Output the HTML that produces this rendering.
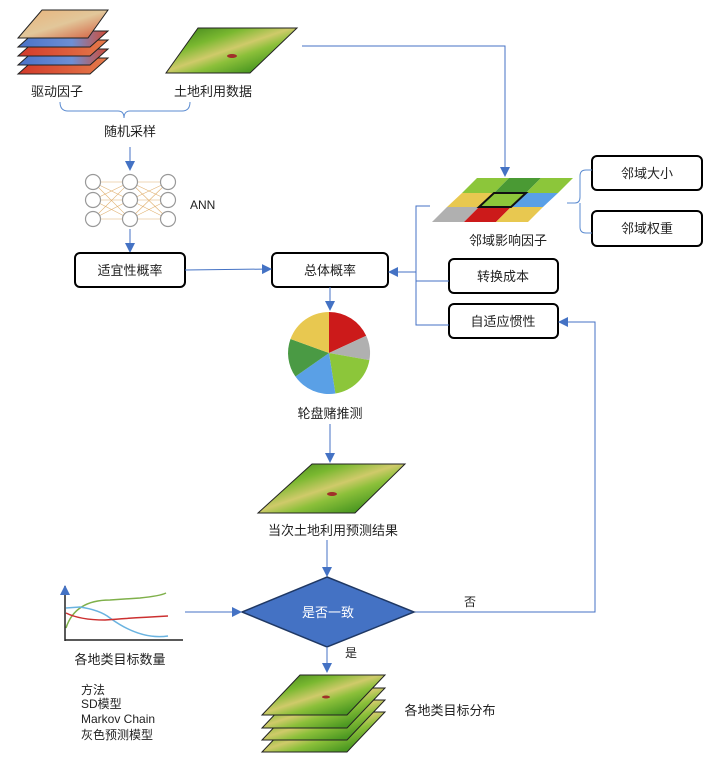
<!DOCTYPE html>
<html><head><meta charset="utf-8"><style>
html,body{margin:0;padding:0;background:#fff;}
svg{display:block;font-family:"Liberation Sans","Noto Sans CJK SC",sans-serif;}
</style></head><body>
<svg width="716" height="776" viewBox="0 0 716 776" xmlns="http://www.w3.org/2000/svg">
<defs>
<marker id="ar" markerWidth="10" markerHeight="10" refX="9" refY="5" orient="auto" markerUnits="userSpaceOnUse"><path d="M0,0 L10,5 L0,10 z" fill="#4472C4"/></marker>
<linearGradient id="lg" x1="0" y1="0" x2="1" y2="1">
<stop offset="0" stop-color="#357a18"/><stop offset="0.3" stop-color="#7ab830"/><stop offset="0.48" stop-color="#cfca6a"/><stop offset="0.6" stop-color="#8cc03a"/><stop offset="0.8" stop-color="#4e9a22"/><stop offset="1" stop-color="#357a18"/></linearGradient>
<linearGradient id="dr" x1="0" y1="0" x2="1" y2="1">
<stop offset="0" stop-color="#e9b27a"/><stop offset="0.5" stop-color="#e2c79a"/><stop offset="1" stop-color="#d2573a"/></linearGradient>
<linearGradient id="db" x1="0" y1="0" x2="1" y2="0">
<stop offset="0" stop-color="#4a72c8"/><stop offset="0.6" stop-color="#6d8fd4"/><stop offset="1" stop-color="#d44a32"/></linearGradient>
<linearGradient id="dre" x1="0" y1="0" x2="1" y2="0">
<stop offset="0" stop-color="#d23a2a"/><stop offset="1" stop-color="#e57a4a"/></linearGradient>
</defs>

<!-- driver stack -->
<g stroke="#222" stroke-width="1">
<polygon points="36,58 108,58 90,74 18,74" fill="url(#dre)"/>
<polygon points="36,49 108,49 90,65 18,65" fill="url(#db)"/>
<polygon points="36,40 108,40 90,56 18,56" fill="url(#dre)"/>
<polygon points="36,31 108,31 90,47 18,47" fill="url(#db)"/>
<polygon points="42,10 108,10 88,38 18,38" fill="url(#dr)"/>
</g>
<!-- land use -->
<polygon points="198,28 297,28 250,73 166,73" fill="url(#lg)" stroke="#222"/>
<ellipse cx="232" cy="56" rx="5" ry="2" fill="#a0302a"/>

<g font-size="13" fill="#222" text-anchor="middle">
<text x="57" y="96">驱动因子</text>
<text x="213" y="96">土地利用数据</text>
<text x="130" y="136">随机采样</text>
<text x="508" y="245">邻域影响因子</text>
<text x="330" y="418">轮盘赌推测</text>
<text x="333" y="535">当次土地利用预测结果</text>
<text x="120" y="664">各地类目标数量</text>
<text x="450" y="715">各地类目标分布</text>
</g>
<text x="190" y="209" font-size="12" fill="#222">ANN</text>

<!-- brace -->
<path d="M60,102 Q60,111 68,111 L118,111 Q124,111 124,118 Q124,111 130,111 L182,111 Q190,111 190,102" fill="none" stroke="#5b8bd0" stroke-width="1"/>
<line x1="130" y1="147" x2="130" y2="170" stroke="#4472C4" marker-end="url(#ar)"/>

<!-- ANN -->
<g stroke="#e0b070" stroke-width="0.6">
<line x1="93" y1="182" x2="130" y2="200"/><line x1="93" y1="182" x2="130" y2="219"/><line x1="93" y1="200" x2="130" y2="182"/><line x1="93" y1="200" x2="130" y2="219"/><line x1="93" y1="219" x2="130" y2="182"/><line x1="93" y1="219" x2="130" y2="200"/>
<line x1="130" y1="182" x2="168" y2="200"/><line x1="130" y1="182" x2="168" y2="219"/><line x1="130" y1="200" x2="168" y2="182"/><line x1="130" y1="200" x2="168" y2="219"/><line x1="130" y1="219" x2="168" y2="182"/><line x1="130" y1="219" x2="168" y2="200"/>
<line x1="93" y1="182" x2="168" y2="182"/><line x1="93" y1="200" x2="168" y2="200"/><line x1="93" y1="219" x2="168" y2="219"/>
</g>
<g fill="#fff" stroke="#999" stroke-width="1.2">
<circle cx="93" cy="182" r="7.5"/><circle cx="93" cy="200" r="7.5"/><circle cx="93" cy="219" r="7.5"/>
<circle cx="130" cy="182" r="7.5"/><circle cx="130" cy="200" r="7.5"/><circle cx="130" cy="219" r="7.5"/>
<circle cx="168" cy="182" r="7.5"/><circle cx="168" cy="200" r="7.5"/><circle cx="168" cy="219" r="7.5"/>
</g>
<line x1="130" y1="229" x2="130" y2="252" stroke="#4472C4" marker-end="url(#ar)"/>

<!-- boxes -->
<g fill="#fff" stroke="#000" stroke-width="2">
<rect x="75" y="253" width="110" height="34" rx="5"/>
<rect x="272" y="253" width="116" height="34" rx="5"/>
<rect x="592" y="156" width="110" height="34" rx="5"/>
<rect x="592" y="211" width="110" height="35" rx="5"/>
<rect x="449" y="259" width="109" height="34" rx="5"/>
<rect x="449" y="304" width="109" height="34" rx="5"/>
</g>
<g font-size="13" fill="#222" text-anchor="middle">
<text x="130" y="275">适宜性概率</text>
<text x="330" y="275">总体概率</text>
<text x="647" y="178">邻域大小</text>
<text x="647" y="233">邻域权重</text>
<text x="503" y="281">转换成本</text>
<text x="503" y="326">自适应惯性</text>
</g>
<line x1="185" y1="270" x2="271" y2="269" stroke="#4472C4" marker-end="url(#ar)"/>

<!-- top connector -->
<polyline points="302,46 505,46 505,176" fill="none" stroke="#4472C4" marker-end="url(#ar)"/>

<!-- neighborhood grid -->
<g stroke="none">
<polygon points="477,178 509,178 494,193 462,193" fill="#8cc63a"/>
<polygon points="509,178 541,178 526,193 494,193" fill="#4a9a34"/>
<polygon points="541,178 573,178 558,193 526,193" fill="#8cc63a"/>
<polygon points="462,193 494,193 479,207 447,207" fill="#e8c850"/>
<polygon points="494,193 526,193 511,207 479,207" fill="#8cc63a"/>
<polygon points="526,193 558,193 543,207 511,207" fill="#5aa0e6"/>
<polygon points="447,207 479,207 464,222 432,222" fill="#b0b0b0"/>
<polygon points="479,207 511,207 496,222 464,222" fill="#cc1a1a"/>
<polygon points="511,207 543,207 528,222 496,222" fill="#e8c850"/>
</g>
<polygon points="494,193 526,193 511,207 479,207" fill="none" stroke="#111" stroke-width="2"/>

<!-- right brace -->
<path d="M567,203 L575,203 Q580,203 580,197 L580,176 Q580,170 586,170 L592,170 M580,203 L580,227 Q580,233 586,233 L592,233" fill="none" stroke="#5b8bd0"/>

<!-- left bracket -->
<polyline points="430,206 416,206 416,325 449,325" fill="none" stroke="#4472C4"/>
<line x1="416" y1="281" x2="449" y2="281" stroke="#4472C4"/>
<line x1="416" y1="272" x2="389" y2="272" stroke="#4472C4" marker-end="url(#ar)"/>

<!-- feedback -->
<polyline points="414,612 595,612 595,322 559,322" fill="none" stroke="#4472C4" marker-end="url(#ar)"/>
<text x="470" y="606" font-size="12" fill="#222" text-anchor="middle">否</text>

<!-- pie -->
<line x1="330" y1="287" x2="330" y2="310" stroke="#4472C4" marker-end="url(#ar)"/>
<g transform="translate(329,353)">
<path d="M0,0 L0,-41 A41,41 0 0 1 37.2,-17.3 z" fill="#cc1a1a"/>
<path d="M0,0 L37.2,-17.3 A41,41 0 0 1 40.4,7.1 z" fill="#b0b0b0"/>
<path d="M0,0 L40.4,7.1 A41,41 0 0 1 6.4,40.5 z" fill="#8cc63a"/>
<path d="M0,0 L6.4,40.5 A41,41 0 0 1 -33.6,23.5 z" fill="#5aa0e6"/>
<path d="M0,0 L-33.6,23.5 A41,41 0 0 1 -38.5,-14 z" fill="#4a9a44"/>
<path d="M0,0 L-38.5,-14 A41,41 0 0 1 0,-41 z" fill="#e8c850"/>
</g>
<line x1="330" y1="424" x2="330" y2="462" stroke="#4472C4" marker-end="url(#ar)"/>

<!-- map current -->
<polygon points="312,464 405,464 355,513 258,513" fill="url(#lg)" stroke="#222"/>
<ellipse cx="332" cy="494" rx="5" ry="2" fill="#a0302a"/>
<line x1="327" y1="540" x2="327" y2="576" stroke="#4472C4" marker-end="url(#ar)"/>

<!-- diamond -->
<polygon points="327,577 414,612 327,647 242,612" fill="#4472C4" stroke="#1f3864" stroke-width="1.5"/>
<text x="328" y="617" font-size="13" fill="#fff" text-anchor="middle">是否一致</text>
<line x1="185" y1="612" x2="241" y2="612" stroke="#4472C4" marker-end="url(#ar)"/>
<line x1="327" y1="647" x2="327" y2="672" stroke="#4472C4" marker-end="url(#ar)"/>
<text x="351" y="657" font-size="12" fill="#222" text-anchor="middle">是</text>

<!-- chart -->
<g fill="none" stroke-width="1.5">
<path d="M66,628 Q75,600 110,600 L140,598 Q160,596 166,593" stroke="#7fb04a"/>
<path d="M66,608 L80,607 Q100,610 110,618 Q140,640 168,636" stroke="#6ab3e0"/>
<path d="M66,613 Q80,620 105,620 Q130,618 168,616" stroke="#cc3030"/>
</g>
<line x1="65" y1="641" x2="65" y2="586" stroke="#222" stroke-width="1.5" marker-end="url(#ar)"/>
<line x1="65" y1="640" x2="183" y2="640" stroke="#222" stroke-width="1.5"/>
<g font-size="12" fill="#222">
<text x="81" y="694">方法</text>
<text x="81" y="708">SD模型</text>
<text x="81" y="723">Markov Chain</text>
<text x="81" y="739">灰色预测模型</text>
</g>

<!-- bottom stack -->
<g stroke="#222">
<polygon points="300,712 385,712 347,752 262,752" fill="url(#lg)"/>
<polygon points="300,700 385,700 347,740 262,740" fill="url(#lg)"/>
<polygon points="300,688 385,688 347,728 262,728" fill="url(#lg)"/>
<polygon points="300,675 385,675 347,715 262,715" fill="url(#lg)"/>
</g>
<ellipse cx="326" cy="697" rx="4" ry="1.5" fill="#a0302a"/>
</svg>
</body></html>
